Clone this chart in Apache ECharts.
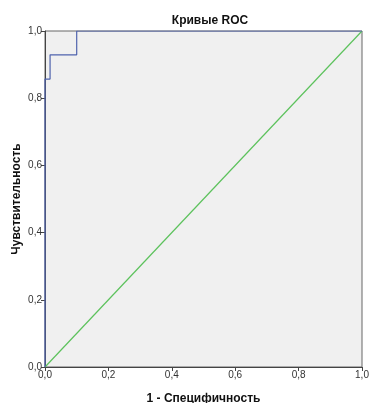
<!DOCTYPE html>
<html>
<head>
<meta charset="utf-8">
<script src="https://cdn.jsdelivr.net/npm/echarts@6/dist/echarts.min.js"></script>
<style>
  html, body { margin: 0; padding: 0; background: #fff; }
  #chart { width: 369px; height: 403px; }
</style>
</head>
<body>
<div id="chart"></div>
<script>
// ROC curve points (1 - specificity, sensitivity)
const rocX = [0, 0, 0.016, 0.016, 0.1, 0.1, 1];
const rocY = [0, 0.857, 0.857, 0.929, 0.929, 1, 1];
// reference diagonal
const diagX = [0, 1];
const diagY = [0, 1];
const tickLabels = ["0,0", "0,2", "0,4", "0,6", "0,8", "1,0"];

const chart = echarts.init(document.getElementById("chart"), null, { renderer: "canvas" });
const font = "Arial, 'Liberation Sans', sans-serif";
const fmt = (v) => tickLabels[Math.round(v * 5)];

const axisCommon = {
  type: "value",
  min: 0,
  max: 1,
  interval: 0.2,
  axisLine: { show: true, lineStyle: { color: "#444", width: 1 } },
  axisTick: { show: true, length: 4, lineStyle: { color: "#444" } },
  axisLabel: { color: "#333", fontSize: 10, fontFamily: font, formatter: fmt, margin: 3 },
  splitLine: { show: false },
  nameLocation: "middle",
  nameMoveOverlap: false,
  nameTextStyle: { color: "#111", fontSize: 12, fontWeight: "bold", fontFamily: font },
};

chart.setOption({
  animation: false,
  title: {
    text: "Кривые ROC",
    left: 205,
    top: 10,
    textAlign: "center",
    textStyle: { color: "#111", fontSize: 12, fontWeight: "bold", fontFamily: font },
  },
  grid: {
    left: 45, right: 7, top: 31, bottom: 36,
    outerBoundsMode: "none", containLabel: false,
    show: true, backgroundColor: "#f0f0f0", borderColor: "#666", borderWidth: 1,
  },
  xAxis: Object.assign({}, axisCommon, { name: "1 - Специфичность", nameGap: 26 }),
  yAxis: Object.assign({}, axisCommon, { name: "Чувствительность", nameGap: 22 }),
  series: [
    {
      type: "line",
      data: diagX.map((x, i) => [x, diagY[i]]),
      symbol: "none",
      lineStyle: { color: "#5cc25c", width: 1.2 },
    },
    {
      type: "line",
      data: rocX.map((x, i) => [x, rocY[i]]),
      symbol: "none",
      lineStyle: { color: "#4f63ad", width: 1.2 },
      z: 3,
    },
  ],
});
</script>
</body>
</html>
